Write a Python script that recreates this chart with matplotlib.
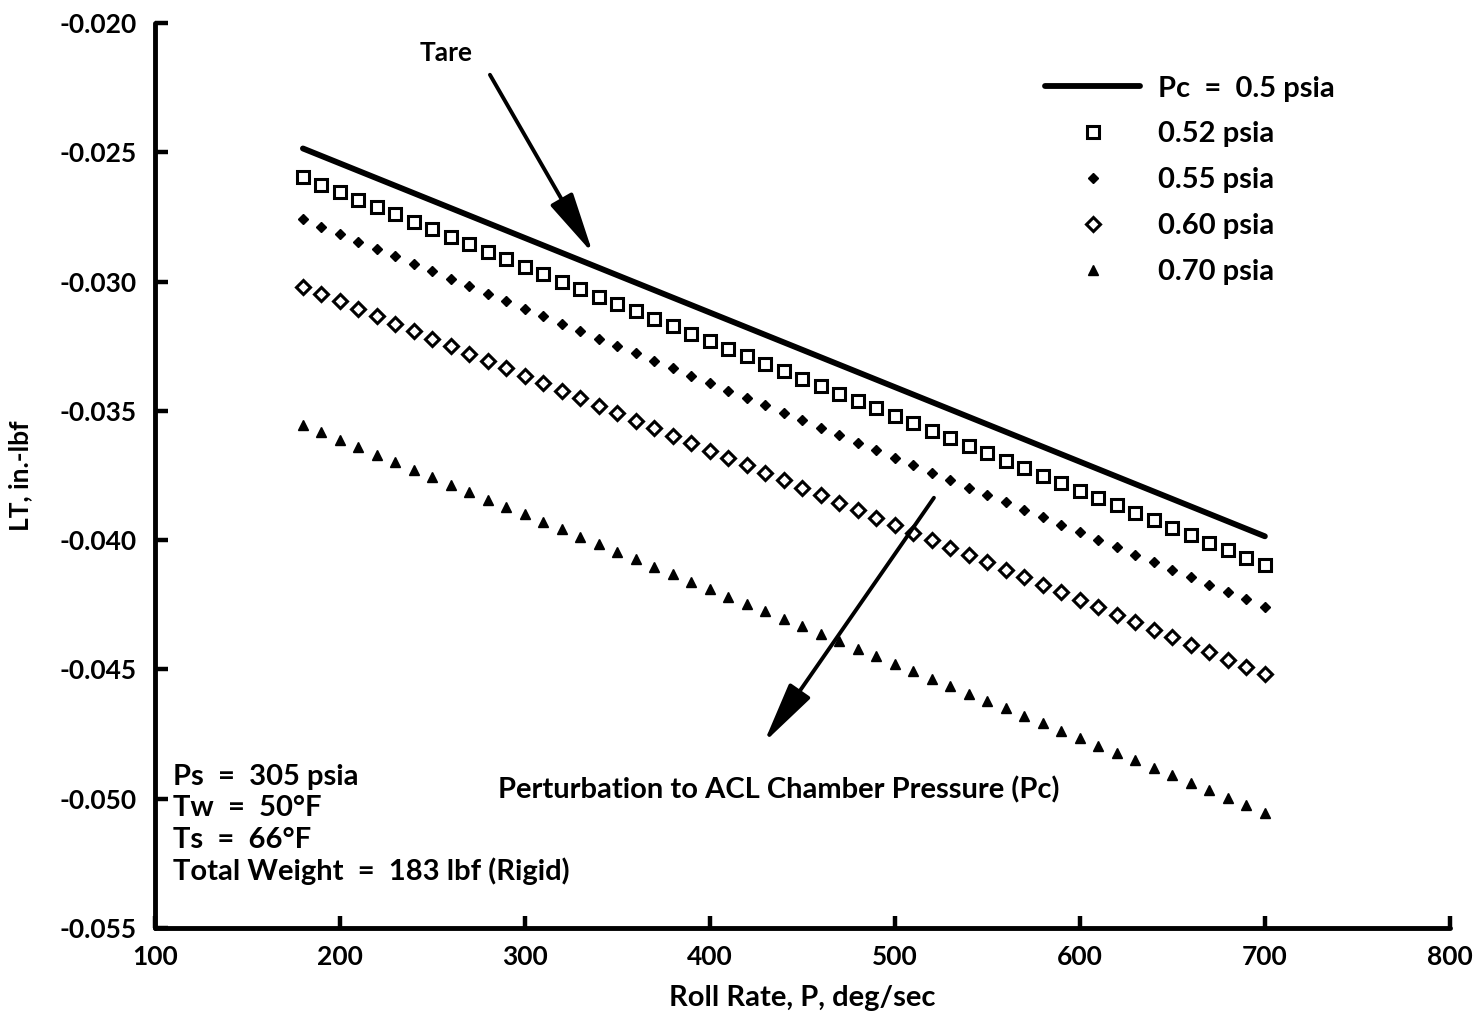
import matplotlib
matplotlib.use("Agg")
import matplotlib.pyplot as plt

plt.rcParams["font.family"] = ["Lato", "DejaVu Sans"]
plt.rcParams["font.weight"] = "bold"

# Roll rate, deg/sec (one marker every 10 deg/sec)
roll_rate = list(range(180, 701, 10))

# Tare curve (Pc = 0.5 psia), drawn as a solid line
tare_x = [180, 700]
tare_lt = [-0.02485, -0.03985]

# Pc = 0.52 psia
lt_052 = [-0.02596, -0.02625, -0.02653, -0.02683, -0.02711, -0.02740, -0.02769, -0.02798, -0.02827, -0.02856,
          -0.02885, -0.02913, -0.02942, -0.02971, -0.03000, -0.03029, -0.03058, -0.03086, -0.03115, -0.03144,
          -0.03173, -0.03202, -0.03231, -0.03260, -0.03288, -0.03317, -0.03346, -0.03375, -0.03404, -0.03433,
          -0.03462, -0.03490, -0.03519, -0.03548, -0.03577, -0.03606, -0.03635, -0.03663, -0.03692, -0.03721,
          -0.03750, -0.03779, -0.03808, -0.03837, -0.03865, -0.03894, -0.03923, -0.03952, -0.03981, -0.04010,
          -0.04039, -0.04067, -0.04096]

# Pc = 0.55 psia
lt_055 = [-0.02758, -0.02787, -0.02815, -0.02845, -0.02873, -0.02902, -0.02931, -0.02960, -0.02989, -0.03018,
          -0.03047, -0.03075, -0.03104, -0.03133, -0.03162, -0.03191, -0.03220, -0.03248, -0.03277, -0.03306,
          -0.03335, -0.03364, -0.03393, -0.03422, -0.03450, -0.03479, -0.03508, -0.03537, -0.03566, -0.03595,
          -0.03624, -0.03652, -0.03681, -0.03710, -0.03739, -0.03768, -0.03797, -0.03825, -0.03854, -0.03883,
          -0.03912, -0.03941, -0.03970, -0.03999, -0.04027, -0.04056, -0.04085, -0.04114, -0.04143, -0.04172,
          -0.04201, -0.04229, -0.04258]

# Pc = 0.60 psia
lt_060 = [-0.03019, -0.03048, -0.03076, -0.03106, -0.03134, -0.03163, -0.03192, -0.03221, -0.03250, -0.03279,
          -0.03308, -0.03336, -0.03365, -0.03394, -0.03423, -0.03452, -0.03481, -0.03509, -0.03538, -0.03567,
          -0.03596, -0.03625, -0.03654, -0.03683, -0.03711, -0.03740, -0.03769, -0.03798, -0.03827, -0.03856,
          -0.03885, -0.03913, -0.03942, -0.03971, -0.04000, -0.04029, -0.04058, -0.04086, -0.04115, -0.04144,
          -0.04173, -0.04202, -0.04231, -0.04260, -0.04288, -0.04317, -0.04346, -0.04375, -0.04404, -0.04433,
          -0.04462, -0.04490, -0.04519]

# Pc = 0.70 psia
lt_070 = [-0.03554, -0.03583, -0.03611, -0.03641, -0.03669, -0.03698, -0.03727, -0.03756, -0.03785, -0.03814,
          -0.03843, -0.03871, -0.03900, -0.03929, -0.03958, -0.03987, -0.04016, -0.04044, -0.04073, -0.04102,
          -0.04131, -0.04160, -0.04189, -0.04218, -0.04246, -0.04275, -0.04304, -0.04333, -0.04362, -0.04391,
          -0.04420, -0.04448, -0.04477, -0.04506, -0.04535, -0.04564, -0.04593, -0.04621, -0.04650, -0.04679,
          -0.04708, -0.04737, -0.04766, -0.04795, -0.04823, -0.04852, -0.04881, -0.04910, -0.04939, -0.04968,
          -0.04997, -0.05025, -0.05054]

x_ticks = [100, 200, 300, 400, 500, 600, 700, 800]
y_ticks = [-0.020, -0.025, -0.030, -0.035, -0.040, -0.045, -0.050, -0.055]

conditions = ["Ps  =  305 psia", "Tw  =  50\u00b0F", "Ts  =  66\u00b0F", "Total Weight  =  183 lbf (Rigid)"]

fig = plt.figure(figsize=(14.84, 10.16), dpi=100)
ax = fig.add_axes([0.1044, 0.0866, 0.8726, 0.8907])

ax.plot(tare_x, tare_lt, color="black", lw=4.2, solid_capstyle="round", label="Pc  =  0.5 psia")
ax.plot(roll_rate, lt_052, ls="none", marker="s", ms=8, mfc="white", mec="black", mew=2.2, label="0.52 psia")
ax.plot(roll_rate, lt_055, ls="none", marker="D", ms=5.5, color="black", label="0.55 psia")
ax.plot(roll_rate, lt_060, ls="none", marker="D", ms=7.5, mfc="white", mec="black", mew=2.2, label="0.60 psia")
ax.plot(roll_rate, lt_070, ls="none", marker="^", ms=7, color="black", label="0.70 psia")

ax.set_xlim(100, 800)
ax.set_ylim(-0.055, -0.020)
ax.set_xticks(x_ticks)
ax.set_yticks(y_ticks)
ax.set_xticklabels([str(v) for v in x_ticks])
ax.set_yticklabels([f"{v:.3f}" for v in y_ticks])

for side in ["top", "right"]:
    ax.spines[side].set_visible(False)
for side in ["left", "bottom"]:
    ax.spines[side].set_linewidth(3.5)
    ax.spines[side].set_capstyle("round")
ax.tick_params(direction="in", length=9, width=3.2, labelsize=19, pad=12)
ax.tick_params(axis="y", pad=13)

ax.set_xlabel("Roll Rate, P, deg/sec", fontsize=21, fontweight="bold", labelpad=12)
ax.set_ylabel("LT, in.-lbf", fontsize=19, fontweight="bold", labelpad=20)

ax.legend(loc="upper left", bbox_to_anchor=(0.6764, 0.958), frameon=False, fontsize=21,
          handlelength=3.25, handletextpad=0.6, labelspacing=0.68, borderpad=0)

# annotations
arrow_style = dict(arrowstyle="-|>,head_length=1.35,head_width=0.28", color="black", lw=2.8,
                   mutation_scale=28, shrinkA=0, shrinkB=0)
ax.annotate("", xy=(336.8, -0.02892), xytext=(281.1, -0.02200), arrowprops=arrow_style)
ax.text(257.3, -0.02115, "Tare", fontsize=19, fontweight="bold", ha="center", va="center")

ax.annotate("", xy=(429.2, -0.04783), xytext=(521.1, -0.03836), arrowprops=arrow_style)
ax.text(285.4, -0.04966, "Perturbation to ACL Chamber Pressure (Pc)", fontsize=21, fontweight="bold",
        ha="left", va="center")

for i, line in enumerate(conditions):
    ax.text(109.7, -0.04915 - i * 0.00122, line, fontsize=21, fontweight="bold", ha="left", va="center")

fig.savefig("out.png", dpi=100)
